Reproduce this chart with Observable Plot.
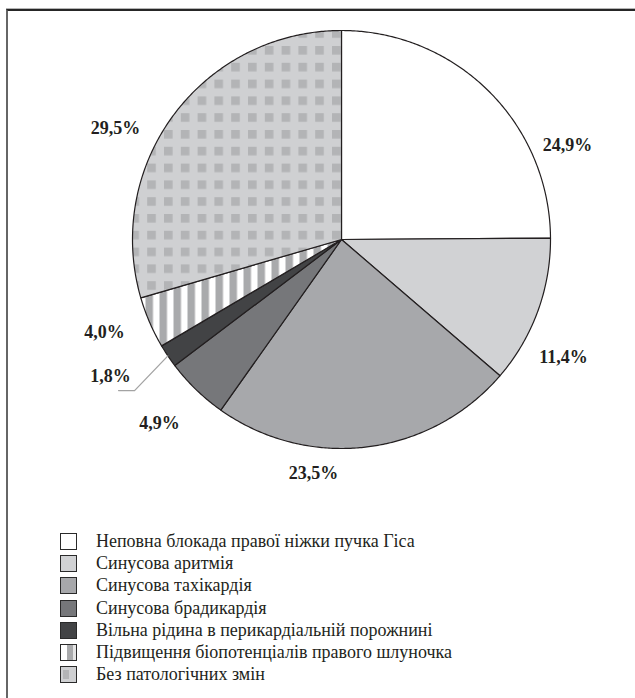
<!DOCTYPE html>
<html>
<head>
<meta charset="utf-8">
<script src="https://cdn.jsdelivr.net/npm/d3@7"></script>
<script src="https://cdn.jsdelivr.net/npm/@observablehq/plot@0.6"></script>
<style>
  html, body { margin: 0; padding: 0; background: #fff; }
  #chart { position: relative; width: 635px; height: 698px; overflow: hidden;
           font-family: "Liberation Serif", "Times New Roman", serif; color: #231f20; }
  #frame { position: absolute; left: 6px; top: 9px; width: 700px; height: 760px;
           border-top: 2px solid #262626; border-left: 2px solid #666;
           box-shadow: 0 -1px 0 #b5b5b5; }
  #pie { position: absolute; left: 0; top: 0; }
  #legend { position: absolute; left: 0; top: 530px; font-size: 18px; }
  .row { display: flex; align-items: center; height: 22.3px; white-space: nowrap; }
  .sw { display: inline-block; box-sizing: border-box; width: 17px; height: 17px;
        margin-left: 60px; border: 1.5px solid #2a2a2a; }
  .lbl { margin-left: 19px; }
</style>
</head>
<body>
<div id="chart">
  <div id="frame"></div>
  <div id="pie"></div>
  <div id="legend"></div>
</div>
<script>
// ECG findings, share of patients (%)
const categories = [
  "Неповна блокада правої ніжки пучка Гіса",
  "Синусова аритмія",
  "Синусова тахікардія",
  "Синусова брадикардія",
  "Вільна рідина в перикардіальній порожнині",
  "Підвищення біопотенціалів правого шлуночка",
  "Без патологічних змін"
];
const shares = [24.9, 11.4, 23.5, 4.9, 1.8, 4.0, 29.5];

// slice fills (last two are SVG patterns defined below)
const fills = ["#ffffff", "#d1d2d4", "#a7a8ab", "#76777a", "#424345", "url(#stripes)", "url(#checks)"];
const swatches = [
  "#ffffff", "#d1d2d4", "#a7a8ab", "#76777a", "#424345",
  "linear-gradient(to right, #fff 0 42%, #a9aaac 42% 82%, #e4e4e4 82%)",
  "linear-gradient(#b3b4b6, #b3b4b6) no-repeat 2px 3px / 6px 9px, #cfd0d2"
];

// label placement: angle clockwise from 12 o'clock (deg) and distance in radii
const labelAngle = [67.4, 118, 186.8, 224.7, 239.3, 248.6, 296.2];
const labelDist  = [1.171, 1.203, 1.128, 1.238, 1.285, 1.218, 1.205];

const W = 635, H = 520, R = 209, CX = 341, CY = 239;
const rad = d => d * Math.PI / 180;
const polar = (a, r) => ({x: Math.sin(a) * r, y: Math.cos(a) * r});
const fmt = v => d3.format(".1f")(v).replace(".", ",") + "%";

const arcs = d3.pie().sort(null).value(d => d)(shares);
const slices = arcs.map((a, i) => {
  const n = Math.max(2, Math.ceil((a.endAngle - a.startAngle) / (Math.PI / 360)));
  const pts = [{x: 0, y: 0, i}];
  for (let k = 0; k <= n; k++) {
    const p = polar(a.startAngle + (a.endAngle - a.startAngle) * k / n, 1);
    pts.push({...p, i});
  }
  pts.push({x: 0, y: 0, i});
  return pts;
});

const labels = shares.map((v, i) => ({...polar(rad(labelAngle[i]), labelDist[i]), text: fmt(v)}));

// leader line for the thin 1,8% slice
const k = 4;
const mid = (arcs[k].startAngle + arcs[k].endAngle) / 2;
const lp = labels[k];
const leader = [polar(mid, 1.0),
  {x: lp.x + 24 / R, y: lp.y - 14 / R},
  {x: lp.x + 8 / R,  y: lp.y - 14 / R}];

const plot = Plot.plot({
  width: W, height: H,
  margin: 0,
  x: {domain: [-CX / R, (W - CX) / R], axis: null},
  y: {domain: [-(H - CY) / R, CY / R], axis: null},
  style: {background: "transparent", overflow: "visible"},
  marks: [
    ...slices.map((pts, i) => Plot.line(pts, {
      x: "x", y: "y", fill: fills[i], stroke: "#231f20", strokeWidth: 1.2, strokeLinejoin: "round"
    })),
    Plot.line(leader, {x: "x", y: "y", stroke: "#a3a3a3", strokeWidth: 1.3}),
    Plot.text(labels, {
      x: "x", y: "y", text: "text", fontSize: 18, fontWeight: "bold",
      fontFamily: "Liberation Serif", fill: "#231f20"
    })
  ]
});

// fill patterns for the two textured slices
const defs = d3.select(plot).insert("defs", ":first-child");
const st = defs.append("pattern").attr("id", "stripes").attr("patternUnits", "userSpaceOnUse")
  .attr("x", 215).attr("y", 0).attr("width", 14).attr("height", 14);
st.append("rect").attr("width", 14).attr("height", 14).attr("fill", "#fff");
st.append("rect").attr("width", 7.5).attr("height", 14).attr("fill", "#a9aaac");
const ck = defs.append("pattern").attr("id", "checks").attr("patternUnits", "userSpaceOnUse")
  .attr("x", 331.5).attr("y", 45.5).attr("width", 16.8).attr("height", 16.8);
ck.append("rect").attr("width", 16.8).attr("height", 16.8).attr("fill", "#cfd0d2");
ck.append("rect").attr("width", 8.6).attr("height", 8.6).attr("fill", "#b3b4b6");

document.getElementById("pie").appendChild(plot);

const legend = d3.select("#legend");
categories.forEach((c, i) => {
  const row = legend.append("div").attr("class", "row");
  row.append("span").attr("class", "sw").style("background", swatches[i]);
  row.append("span").attr("class", "lbl").text(c);
});
</script>
</body>
</html>
